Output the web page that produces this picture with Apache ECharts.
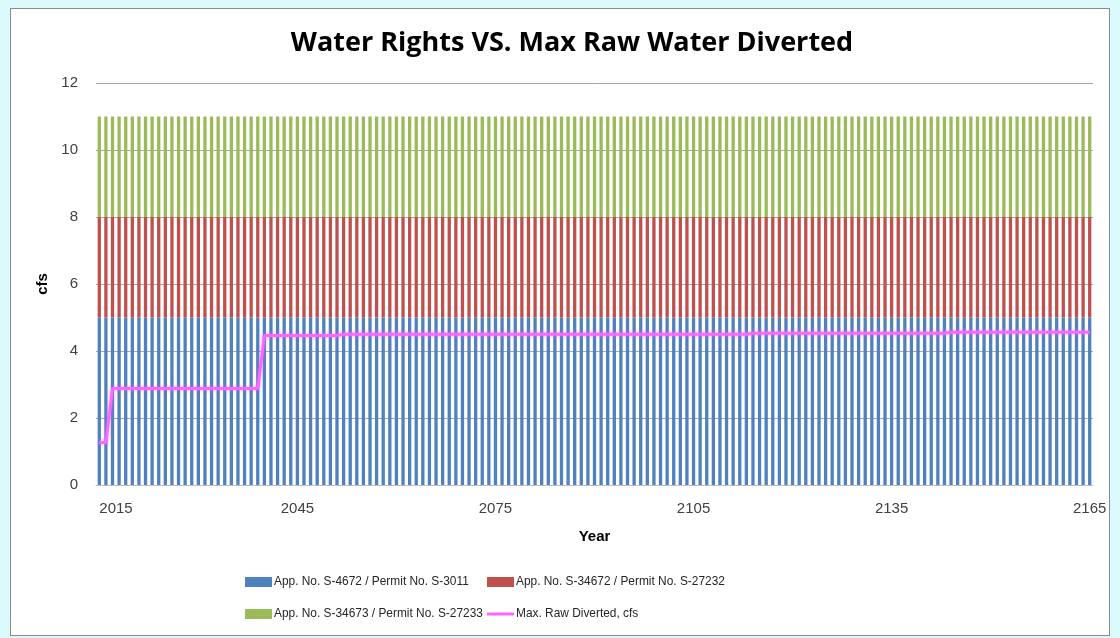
<!DOCTYPE html>
<html>
<head>
<meta charset="utf-8">
<title>Water Rights VS. Max Raw Water Diverted</title>
<script src="https://cdn.jsdelivr.net/npm/echarts@6/dist/echarts.min.js"></script>
<style>
  html, body { margin: 0; padding: 0; width: 1120px; height: 638px; overflow: hidden; background: #dcf9fc; }
  #frame { position: absolute; left: 10px; top: 8px; width: 1098px; height: 626px; background: #ffffff; border: 1px solid #8c8c8c; }
  #chart { position: absolute; left: 0; top: 0; width: 1120px; height: 638px; }
</style>
</head>
<body>
<div id="frame"></div>
<div id="chart"></div>
<script>
// Years 2015..2165
const years = [
  2015,2016,2017,2018,2019,2020,2021,2022,2023,2024,2025,2026,2027,2028,2029,2030,2031,2032,2033,2034,2035,2036,2037,2038,2039,
  2040,2041,2042,2043,2044,2045,2046,2047,2048,2049,2050,2051,2052,2053,2054,2055,2056,2057,2058,2059,2060,2061,2062,2063,2064,
  2065,2066,2067,2068,2069,2070,2071,2072,2073,2074,2075,2076,2077,2078,2079,2080,2081,2082,2083,2084,2085,2086,2087,2088,2089,
  2090,2091,2092,2093,2094,2095,2096,2097,2098,2099,2100,2101,2102,2103,2104,2105,2106,2107,2108,2109,2110,2111,2112,2113,2114,
  2115,2116,2117,2118,2119,2120,2121,2122,2123,2124,2125,2126,2127,2128,2129,2130,2131,2132,2133,2134,2135,2136,2137,2138,2139,
  2140,2141,2142,2143,2144,2145,2146,2147,2148,2149,2150,2151,2152,2153,2154,2155,2156,2157,2158,2159,2160,2161,2162,2163,2164,
  2165
];

// App. No. S-4672 / Permit No. S-3011 (cfs)
const rightS4672 = [
  5,5,5,5,5,5,5,5,5,5,5,5,5,5,5,5,5,5,5,5,5,5,5,5,5,
  5,5,5,5,5,5,5,5,5,5,5,5,5,5,5,5,5,5,5,5,5,5,5,5,5,
  5,5,5,5,5,5,5,5,5,5,5,5,5,5,5,5,5,5,5,5,5,5,5,5,5,
  5,5,5,5,5,5,5,5,5,5,5,5,5,5,5,5,5,5,5,5,5,5,5,5,5,
  5,5,5,5,5,5,5,5,5,5,5,5,5,5,5,5,5,5,5,5,5,5,5,5,5,
  5,5,5,5,5,5,5,5,5,5,5,5,5,5,5,5,5,5,5,5,5,5,5,5,5,
  5
];

// App. No. S-34672 / Permit No. S-27232 (cfs)
const rightS34672 = [
  3,3,3,3,3,3,3,3,3,3,3,3,3,3,3,3,3,3,3,3,3,3,3,3,3,
  3,3,3,3,3,3,3,3,3,3,3,3,3,3,3,3,3,3,3,3,3,3,3,3,3,
  3,3,3,3,3,3,3,3,3,3,3,3,3,3,3,3,3,3,3,3,3,3,3,3,3,
  3,3,3,3,3,3,3,3,3,3,3,3,3,3,3,3,3,3,3,3,3,3,3,3,3,
  3,3,3,3,3,3,3,3,3,3,3,3,3,3,3,3,3,3,3,3,3,3,3,3,3,
  3,3,3,3,3,3,3,3,3,3,3,3,3,3,3,3,3,3,3,3,3,3,3,3,3,
  3
];

// App. No. S-34673 / Permit No. S-27233 (cfs)
const rightS34673 = [
  3,3,3,3,3,3,3,3,3,3,3,3,3,3,3,3,3,3,3,3,3,3,3,3,3,
  3,3,3,3,3,3,3,3,3,3,3,3,3,3,3,3,3,3,3,3,3,3,3,3,3,
  3,3,3,3,3,3,3,3,3,3,3,3,3,3,3,3,3,3,3,3,3,3,3,3,3,
  3,3,3,3,3,3,3,3,3,3,3,3,3,3,3,3,3,3,3,3,3,3,3,3,3,
  3,3,3,3,3,3,3,3,3,3,3,3,3,3,3,3,3,3,3,3,3,3,3,3,3,
  3,3,3,3,3,3,3,3,3,3,3,3,3,3,3,3,3,3,3,3,3,3,3,3,3,
  3
];

// Max. Raw Diverted, cfs
const maxRawDiverted = [
  1.27,1.27,2.88,2.88,2.88,2.88,2.88,2.88,2.88,2.88,2.88,2.88,2.88,2.88,2.88,2.88,2.88,2.88,2.88,2.88,2.88,2.88,2.88,2.88,2.88,
  4.46,4.46,4.46,4.46,4.46,4.46,4.46,4.46,4.46,4.46,4.46,4.46,4.50,4.50,4.50,4.50,4.50,4.50,4.50,4.50,4.50,4.50,4.50,4.50,4.50,
  4.50,4.50,4.50,4.50,4.50,4.50,4.50,4.50,4.50,4.50,4.50,4.50,4.50,4.50,4.50,4.50,4.50,4.50,4.50,4.50,4.50,4.50,4.50,4.50,4.50,
  4.50,4.50,4.50,4.50,4.50,4.50,4.50,4.50,4.50,4.50,4.50,4.50,4.50,4.50,4.50,4.50,4.50,4.50,4.50,4.50,4.50,4.50,4.50,4.50,4.53,
  4.53,4.53,4.53,4.53,4.53,4.53,4.53,4.53,4.53,4.53,4.53,4.53,4.53,4.53,4.53,4.53,4.53,4.53,4.53,4.53,4.53,4.53,4.53,4.53,4.53,
  4.53,4.53,4.53,4.53,4.56,4.56,4.56,4.56,4.56,4.56,4.56,4.56,4.56,4.56,4.56,4.56,4.56,4.56,4.56,4.56,4.56,4.56,4.56,4.56,4.56,
  4.56
];

const yTicks = [0, 2, 4, 6, 8, 10, 12];

const FONT = '"Liberation Sans", Arial, sans-serif';
const TITLE_FONT = '"Open Sans", "Noto Sans", sans-serif';

const NAMES = [
  'App. No. S-4672 / Permit No. S-3011',
  'App. No. S-34672 / Permit No. S-27232',
  'App. No. S-34673 / Permit No. S-27233',
  'Max. Raw Diverted, cfs'
];
const COLORS = ['#4f81bd', '#c0504d', '#9bbb59', '#ff66ff'];

// one legend entry per block so the two rows line up as a grid
function legendAt(name, left, top, isLine) {
  return {
    data: [name],
    left: left,
    top: top,
    orient: 'horizontal',
    itemWidth: 27,
    itemHeight: isLine ? 3 : 10,
    itemGap: 0,
    padding: 0,
    selectedMode: false,
    icon: 'rect',
    textStyle: { fontFamily: FONT, fontSize: 11.9, color: '#262626', padding: [0, 0, 0, -3] }
  };
}

const chart = echarts.init(document.getElementById('chart'), null, { renderer: 'canvas' });

chart.setOption({
  animation: false,
  backgroundColor: 'transparent',
  title: {
    text: 'Water Rights VS. Max Raw Water Diverted',
    left: 567,
    top: 25,
    textAlign: 'center',
    textStyle: { fontFamily: TITLE_FONT, fontSize: 27, fontWeight: 'bold', color: '#000000' }
  },
  legend: [
    legendAt(NAMES[0], 245, 576, false),
    legendAt(NAMES[1], 487, 576, false),
    legendAt(NAMES[2], 245, 608, false),
    legendAt(NAMES[3], 487, 608, true)
  ],
  grid: { left: 96, right: 27, top: 83, bottom: 153, containLabel: false },
  xAxis: {
    type: 'category',
    data: years,
    name: 'Year',
    nameLocation: 'middle',
    nameGap: 44,
    nameTextStyle: { fontFamily: FONT, fontSize: 15, fontWeight: 'bold', color: '#000000' },
    axisLine: { show: true, lineStyle: { color: '#bfbfbf', width: 1 } },
    axisTick: { show: false },
    axisLabel: {
      interval: 29,
      margin: 16,
      alignMinLabel: 'left',
      fontFamily: FONT,
      fontSize: 15,
      color: '#404040'
    }
  },
  yAxis: {
    type: 'value',
    min: yTicks[0],
    max: yTicks[yTicks.length - 1],
    interval: 2,
    name: 'cfs',
    nameLocation: 'middle',
    nameGap: 46,
    nameRotate: 90,
    nameTextStyle: { fontFamily: FONT, fontSize: 15, fontWeight: 'bold', color: '#000000' },
    axisLine: { show: false },
    axisTick: { show: false },
    axisLabel: { margin: 18, fontFamily: FONT, fontSize: 15, color: '#404040' },
    splitLine: { show: true, lineStyle: { color: '#a6a6a6', width: 1 } }
  },
  series: [
    {
      name: NAMES[0], type: 'bar', stack: 'rights', data: rightS4672,
      barWidth: '50%', itemStyle: { color: COLORS[0] }, z: 2
    },
    {
      name: NAMES[1], type: 'bar', stack: 'rights', data: rightS34672,
      barWidth: '50%', itemStyle: { color: COLORS[1] }, z: 2
    },
    {
      name: NAMES[2], type: 'bar', stack: 'rights', data: rightS34673,
      barWidth: '50%', itemStyle: { color: COLORS[2] }, z: 2
    },
    {
      name: NAMES[3], type: 'line', data: maxRawDiverted,
      symbol: 'none', smooth: false, z: 5,
      lineStyle: { color: COLORS[3], width: 3, shadowColor: 'rgba(255,102,255,0.6)', shadowBlur: 4 },
      itemStyle: { color: COLORS[3] }
    }
  ]
});
</script>
</body>
</html>
